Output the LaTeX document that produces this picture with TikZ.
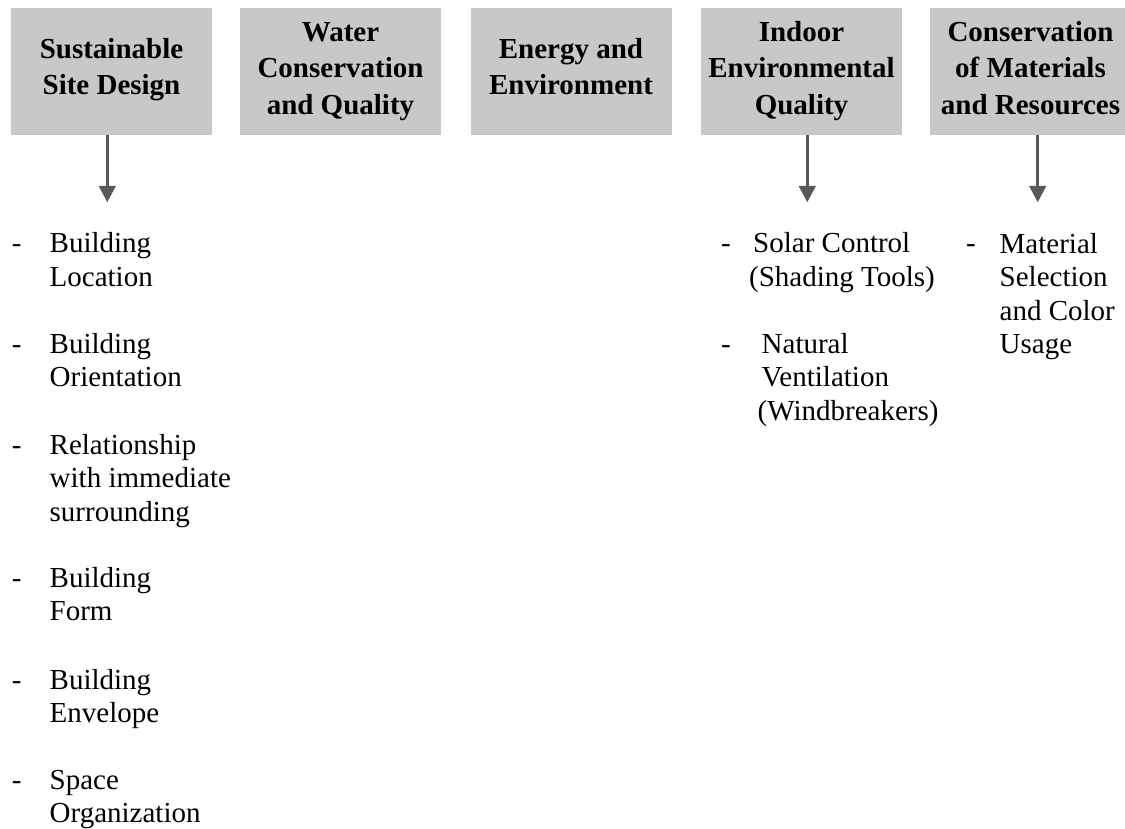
\documentclass[tikz,border=0pt]{standalone}
\usepackage{fontspec}
\setmainfont{Liberation Serif}
\usetikzlibrary{arrows.meta}
\definecolor{boxgray}{HTML}{C8C8C8}
\definecolor{arrowgray}{HTML}{595959}
\begin{document}
\begin{tikzpicture}[x=1pt,y=-1pt,
  catbox/.style={fill=boxgray, draw=none, minimum width=201pt, minimum height=126.4pt, inner sep=0pt, anchor=north west},
  cattext/.style={font={\bfseries\fontsize{29pt}{36.4pt}\selectfont}, align=center, anchor=base, inner sep=0pt},
  itemtext/.style={font={\fontsize{29pt}{33.5pt}\selectfont}, align=left, anchor=base west, inner sep=0pt},
  dashmark/.style={font={\fontsize{29pt}{33.5pt}\selectfont}, anchor=base west, inner sep=0pt},
  conn/.style={draw=arrowgray, line width=2.7pt, -{Triangle[width=16.7pt,length=16.5pt]}}
]
\useasboundingbox (0,0) rectangle (1125,829);
\clip (0,0) rectangle (1125,829);

% category boxes
\node[catbox] (b1) at (11,8.3) {};
\node[catbox] (b2) at (240,8.3) {};
\node[catbox] (b3) at (471,8.3) {};
\node[catbox] (b4) at (701,8.3) {};
\node[catbox] (b5) at (930,8.3) {};

% titles (anchor = baseline of the last line)
\node[cattext] (t1) at (111.5,94.5) {Sustainable\\Site Design};
\node[cattext] (t2) at (340.5,114.3) {Water\\Conservation\\and Quality};
\node[cattext] (t3) at (571,94.5) {Energy and\\Environment};
\node[cattext] (t4) at (801.5,114.3) {Indoor\\Environmental\\Quality};
\node[cattext] (t5) at (1030.5,114.3) {Conservation\\of Materials\\and Resources};

% arrows
\coordinate (a1) at (107.3,202.3);
\coordinate (a4) at (807.3,202.3);
\coordinate (a5) at (1037.7,202.3);
\draw[conn] (b1.south -| a1) -- (a1);
\draw[conn] (b4.south -| a4) -- (a4);
\draw[conn] (b5.south -| a5) -- (a5);

% left column items (text anchor = baseline of last line)
\node[dashmark] (d1) at (11.6,253) {-};
\node[itemtext] (i1) at (49.5,286.5) {Building\\Location};
\node[dashmark] (d2) at (11.6,353) {-};
\node[itemtext] (i2) at (49.5,386.5) {Building\\Orientation};
\node[dashmark] (d3) at (11.6,454) {-};
\node[itemtext] (i3) at (49.5,521) {Relationship\\with immediate\\surrounding};
\node[dashmark] (d4) at (11.6,587) {-};
\node[itemtext] (i4) at (49.5,620.5) {Building\\Form};
\node[dashmark] (d5) at (11.6,689) {-};
\node[itemtext] (i5) at (49.5,722.5) {Building\\Envelope};
\node[dashmark] (d6) at (11.6,789) {-};
\node[itemtext] (i6) at (49.5,822.5) {Space\\Organization};

% indoor environmental quality items
\node[dashmark] (d7) at (721,253) {-};
\node[itemtext] (i7) at (753,286.5) {Solar Control\\\hspace*{-4pt}(Shading Tools)};
\node[dashmark] (d8) at (721,353) {-};
\node[itemtext] (i8) at (761.5,420) {Natural\\Ventilation\\\hspace*{-4pt}(Windbreakers)};

% materials items
\node[dashmark] (d9) at (966,253) {-};
\node[itemtext] (i9) at (999.5,353.5) {Material\\Selection\\and Color\\Usage};
\end{tikzpicture}
\end{document}
